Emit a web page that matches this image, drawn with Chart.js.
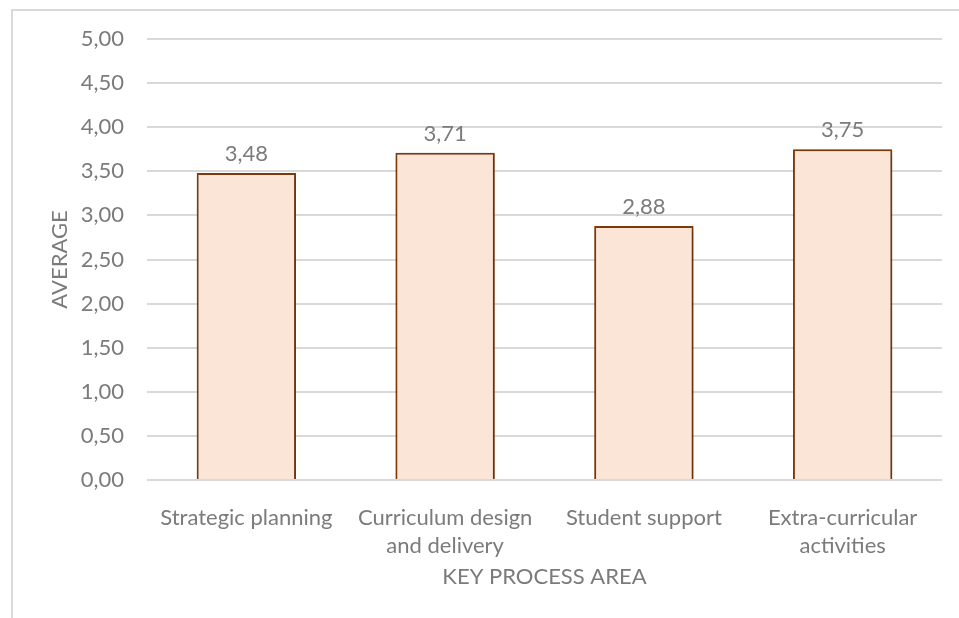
<!DOCTYPE html>
<html>
<head>
<meta charset="utf-8">
<script src="https://cdn.jsdelivr.net/npm/chart.js@4"></script>
<style>
  html, body { margin: 0; padding: 0; background: #fff; overflow: hidden; }
  #frame { position: absolute; left: 11px; top: 9px; width: 1000px; height: 700px; border: 2px solid #d9d9d9; box-sizing: border-box; }
  #chart { position: absolute; left: 0; top: 0; }
</style>
</head>
<body>
<div id="frame"></div>
<canvas id="chart" width="959" height="618"></canvas>
<script>
  const categories = [
    'Strategic planning',
    ['Curriculum design', 'and delivery'],
    'Student support',
    ['Extra-curricular', 'activities']
  ];
  const averages = [3.48, 3.71, 2.88, 3.75];
  const yTicks = [0, 0.5, 1, 1.5, 2, 2.5, 3, 3.5, 4, 4.5, 5];

  const textColor = '#7b7b7b';
  const fontFamily = 'Lato, "Open Sans", sans-serif';
  const fmt = v => Number(v).toFixed(2).replace('.', ',');

  // labels above the bars + soft shadow like the office chart
  const barExtras = {
    id: 'barExtras',
    beforeDatasetsDraw(chart) {
      const ctx = chart.ctx;
      ctx.save();
      ctx.shadowColor = 'rgba(0,0,0,0.3)';
      ctx.shadowBlur = 4;
      ctx.shadowOffsetX = 1;
      ctx.shadowOffsetY = 1;
    },
    afterDatasetsDraw(chart) {
      const ctx = chart.ctx;
      ctx.restore();
      ctx.save();
      ctx.font = '22px ' + fontFamily;
      ctx.fillStyle = textColor;
      ctx.textAlign = 'center';
      ctx.textBaseline = 'middle';
      chart.getDatasetMeta(0).data.forEach((bar, i) => {
        ctx.fillText(fmt(averages[i]), bar.x, bar.y - 19);
      });
      ctx.restore();
    }
  };

  new Chart(document.getElementById('chart').getContext('2d'), {
    type: 'bar',
    data: {
      labels: categories,
      datasets: [{
        data: averages,
        backgroundColor: '#fbe5d6',
        borderColor: '#843c0c',
        borderWidth: 2,
        barPercentage: 0.5,
        categoryPercentage: 1
      }]
    },
    options: {
      responsive: false,
      animation: false,
      devicePixelRatio: 1,
      layout: { padding: { left: 11, right: 17, top: 39, bottom: 0 } },
      plugins: {
        legend: { display: false },
        tooltip: { enabled: false }
      },
      scales: {
        x: {
          grid: { display: false },
          border: { display: false },
          ticks: {
            color: textColor,
            font: { family: fontFamily, size: 22, lineHeight: 1.28 },
            padding: 16,
            maxRotation: 0,
            autoSkip: false
          },
          title: {
            display: true,
            text: 'KEY PROCESS AREA',
            color: textColor,
            font: { family: fontFamily, size: 22, lineHeight: 1.2 },
            padding: { top: 0, bottom: 28 }
          },
          afterFit: s => { s.height = 138; }
        },
        y: {
          min: 0,
          max: 5,
          afterBuildTicks: s => { s.ticks = yTicks.map(v => ({ value: v })); },
          grid: { color: '#d9d9d9', lineWidth: 2, drawTicks: false },
          border: { display: false },
          ticks: {
            color: textColor,
            font: { family: fontFamily, size: 22 },
            padding: 23,
            callback: v => fmt(v)
          },
          title: {
            display: true,
            text: 'AVERAGE',
            color: textColor,
            font: { family: fontFamily, size: 22, lineHeight: 1.2 },
            padding: { top: 36, bottom: 0 }
          },
          afterFit: s => { s.width = 136; }
        }
      }
    },
    plugins: [barExtras]
  });
</script>
</body>
</html>
